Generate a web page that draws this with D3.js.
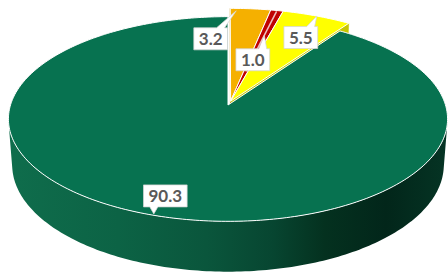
<!DOCTYPE html>
<html><head><meta charset="utf-8">
<script src="https://cdn.jsdelivr.net/npm/d3@7"></script>
<style>html,body{margin:0;padding:0;background:#fff;overflow:hidden}</style>
</head><body><svg id="c" width="448" height="274"></svg>
<script>
// ---- data ----
const categories = ["Orange", "Red", "Yellow", "Green"];
const values = [3.2, 1.0, 5.5, 90.3];
const colors = ["#F5B000", "#C00000", "#FFFF00", "#077250"];
const exploded = [true, true, true, false];
// label layout: anchor inside slice (fraction of angle, fraction of radius) and box offset
const labelAnchor = [[0.15, 0.97], [0.5, 0.7], [0.5, 1.0], [0.5, 0.99]];
const labelOffset = [[-25.5, 28], [-11.5, 24.5], [-16, 21.5], [11.5, -18]];

// ---- view ----
const cx = 228, cy = 105, S = 217.5, tilt = 27.5 * Math.PI / 180, D = 6.49, thick = 0.24;
const explodeDist = 0.04, explodeScale = 1.07;
const cT = Math.cos(tilt), sT = Math.sin(tilt);
function proj(X, Y, Z) {
  const depth = Z * cT + Y * sT;
  const k = D / (D - depth);
  return [cx + S * X * k, cy - S * (Y * cT - Z * sT) * k];
}
const svg = d3.select("#c");
const defs = svg.append("defs");
const grad = defs.append("linearGradient").attr("id", "side")
  .attr("gradientUnits", "userSpaceOnUse").attr("x1", 8).attr("x2", 448).attr("y1", 0).attr("y2", 0);
[[0, "#0f6d4c"], [0.25, "#0c6345"], [0.45, "#0a563c"], [0.6, "#074631"], [0.72, "#04311f"], [0.86, "#02261a"], [1, "#053424"]]
  .forEach(([o, c]) => grad.append("stop").attr("offset", o).attr("stop-color", c));

const pie = d3.pie().sort(null).value(d => d)(values);
const exp = pie.filter((p, i) => exploded[i]);
const midExp = (exp[0].startAngle + exp[exp.length - 1].endAngle) / 2;
const offExp = {x: explodeDist * Math.sin(midExp), z: -explodeDist * Math.cos(midExp)};
const geo = pie.map((p, i) => exploded[i] ? {off: offExp, R: explodeScale} : {off: {x: 0, z: 0}, R: 1});

function pt(g, a, r, Y) {
  return proj(g.off.x + g.R * r * Math.sin(a), Y, g.off.z - g.R * r * Math.cos(a));
}
function arcPts(g, a0, a1, r, Y) {
  const n = Math.max(2, Math.ceil(Math.abs(a1 - a0) / (Math.PI / 180)));
  return d3.range(n + 1).map(j => pt(g, a0 + (a1 - a0) * j / n, r, Y));
}
const line = d3.line();
const camP = [0, D * sT, D * cT];

// 1. green outer wall (visible front band)
pie.forEach((p, i) => {
  if (exploded[i]) return;
  const g = geo[i];
  const lim = Math.acos(-1 / (D * cT));
  const a0 = Math.max(p.startAngle, lim), a1 = Math.min(p.endAngle, 2 * Math.PI - lim);
  if (a1 <= a0) return;
  const top = arcPts(g, a0, a1, 1, 0), bot = arcPts(g, a0, a1, 1, -thick).reverse();
  svg.append("path").attr("d", line(top.concat(bot)) + "Z").attr("fill", "url(#side)");
});

// 2. radial walls of exploded slices facing the viewer
pie.forEach((p, i) => {
  if (!exploded[i]) return;
  const g = geo[i];
  [[p.startAngle, -1], [p.endAngle, 1]].forEach(([a, sgn]) => {
    const n = [sgn * Math.cos(a), 0, sgn * Math.sin(a)];
    const P = [g.off.x, 0, g.off.z];
    const dot = (camP[0] - P[0]) * n[0] + (camP[1] - P[1]) * n[1] + (camP[2] - P[2]) * n[2];
    if (dot <= 1e-3) return;
    const poly = [pt(g, a, 0, 0), pt(g, a, 1, 0), pt(g, a, 1, -thick), pt(g, a, 0, -thick)];
    svg.append("path").attr("d", line(poly) + "Z")
      .attr("fill", d3.color(colors[i]).darker(0.7)).attr("stroke", d3.color(colors[i]).darker(0.7)).attr("stroke-width", 0.5);
  });
});

// 3. top faces: exploded first, then others
const order = pie.map((p, i) => i).sort((a, b) => (exploded[b] ? 1 : 0) - (exploded[a] ? 1 : 0));
order.forEach(i => {
  const p = pie[i], g = geo[i];
  const pts = [pt(g, 0, 0, 0)].concat(arcPts(g, p.startAngle, p.endAngle, 1, 0));
  svg.append("path").attr("d", line(pts) + "Z").attr("fill", colors[i])
    .attr("stroke", "#ffffff").attr("stroke-width", 1).attr("stroke-linejoin", "round");
  if (categories[i] === "Red") {
    const m = (p.startAngle + p.endAngle) / 2;
    svg.append("path").attr("d", line([pt(g, m, 0.3, 0), pt(g, m, 0.99, 0)]))
      .attr("stroke", "#ffffff").attr("stroke-opacity", 0.75).attr("stroke-width", 1.5);
  }
});

// 4. callout labels
pie.forEach((p, i) => {
  const g = geo[i];
  const [af, rf] = labelAnchor[i];
  const a = p.startAngle + (p.endAngle - p.startAngle) * af;
  const tip = pt(g, a, rf, 0);
  const bc = [tip[0] + labelOffset[i][0], tip[1] + labelOffset[i][1]];
  const grp = svg.append("g");
  const txt = grp.append("text").text(values[i].toFixed(1))
    .attr("x", bc[0]).attr("y", bc[1]).attr("text-anchor", "middle").attr("dominant-baseline", "central")
    .attr("font-family", "Lato, 'Open Sans', sans-serif").attr("font-weight", "bold").attr("font-size", 17)
    .attr("fill", "#595959");
  const tw = txt.node().getComputedTextLength();
  const w = tw + 10, h = 22;
  const x0 = bc[0] - w / 2, x1 = bc[0] + w / 2, y0 = bc[1] - h / 2, y1 = bc[1] + h / 2;
  const hw = 4;
  const bx = Math.max(x0 + hw + 3, Math.min(x1 - hw - 3, tip[0]));
  let d;
  if (tip[1] < y0) {
    d = `M${x0},${y0}L${bx - hw},${y0}L${tip[0]},${tip[1]}L${bx + hw},${y0}L${x1},${y0}L${x1},${y1}L${x0},${y1}Z`;
  } else {
    d = `M${x0},${y0}L${x1},${y0}L${x1},${y1}L${bx + hw},${y1}L${tip[0]},${tip[1]}L${bx - hw},${y1}L${x0},${y1}Z`;
  }
  grp.insert("path", "text").attr("d", d).attr("fill", "#ffffff")
    .attr("stroke", "#d4d4d4").attr("stroke-width", 0.75).attr("stroke-linejoin", "miter");
});
</script></body></html>
